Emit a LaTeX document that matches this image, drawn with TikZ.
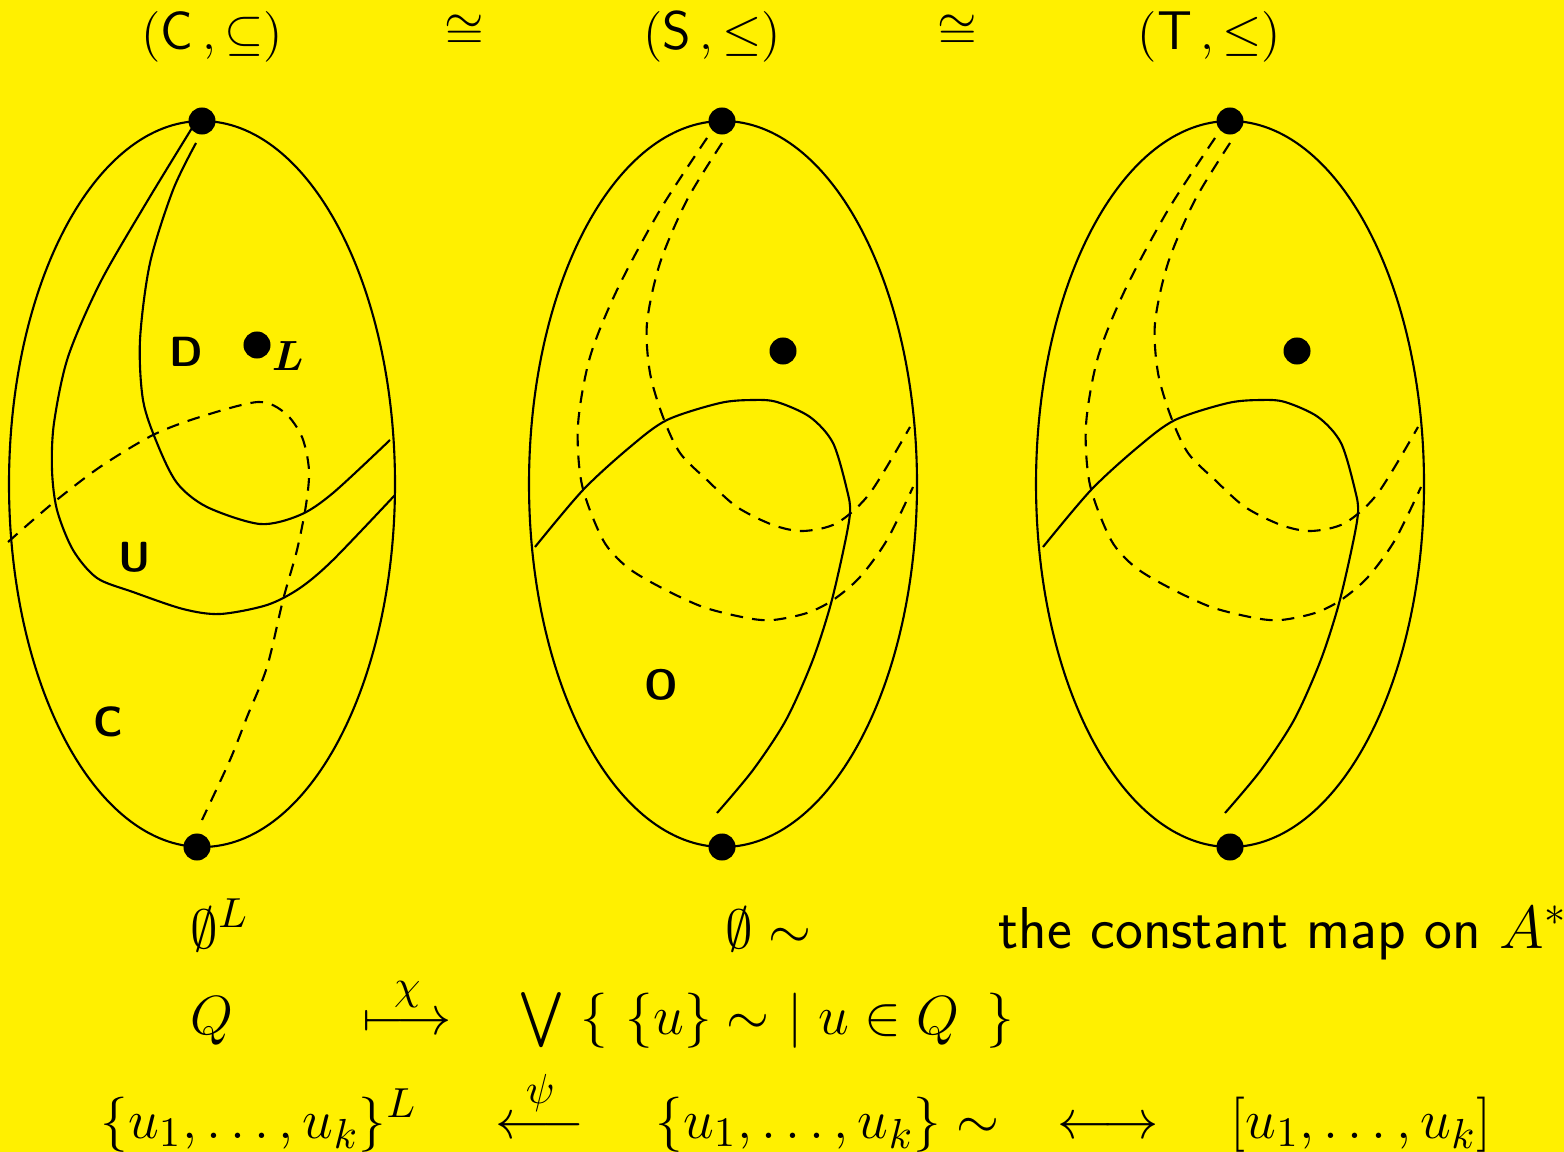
\documentclass[tikz,border=0pt]{standalone}
\usepackage{amsmath}
\usepackage{xcolor}
\usetikzlibrary{positioning}

\definecolor{slideyellow}{RGB}{255,240,0}

\tikzset{
  blob/.style={circle,fill=black,inner sep=0pt,minimum size=0.27cm},
  regionlabel/.style={font=\fontsize{12}{14}\selectfont\sffamily\bfseries,inner sep=0pt},
  txt/.style={anchor=base west,inner sep=0pt},
  bigtxt/.style={txt,scale=1.09,transform shape},
  frontline/.style={line width=0.6pt},
  backline/.style={line width=0.6pt,dash pattern=on 3.6pt off 2.6pt},
}

\begin{document}
\begin{tikzpicture}[x=0.01cm,y=-0.01cm,font=\fontsize{15.5}{18}\selectfont]
\useasboundingbox (0,0) rectangle (1564,1152);
\fill[slideyellow] (0,0) rectangle (1564,1152);

% the three eggs
\draw[frontline] (202,484) ellipse [x radius=193,y radius=363];
\draw[frontline] (723,484) ellipse [x radius=194,y radius=363];
\draw[frontline] (1230,484) ellipse [x radius=194,y radius=363];

% left egg: U, D and the dashed cut
\draw[frontline] plot[smooth] coordinates {(192,128) (145,205) (100,283) (68,357) (54,423) (52,470) (57,510) (73,550) (97,578) (133,592) (183,609) (220,614) (267,605) (300,588) (333,560) (395,495)};
\draw[frontline] plot[smooth] coordinates {(196,143) (173,190) (150,263) (140,340) (143,400) (157,443) (177,483) (207,507) (260,524) (300,515) (333,493) (390,440)};
\draw[backline] plot[smooth] coordinates {(8,542) (53,503) (100,467) (153,435) (200,417) (258,402) (285,413) (302,437) (309,470) (306,505) (297,550) (283,600) (267,667) (247,717) (230,760) (202,820)};

% middle and right egg
\foreach \dx in {0,508} {
\begin{scope}[shift={(\dx,0)}]
\draw[backline] plot[smooth] coordinates {(707,138) (660,210) (617,290) (590,357) (578,425) (582,485) (603,540) (627,567) (660,587) (703,607) (747,618) (773,620) (807,613) (833,600) (860,577) (887,540) (913,487)};
\draw[backline] plot[smooth] coordinates {(722,143) (687,200) (660,263) (647,323) (650,373) (663,417) (680,453) (707,480) (737,507) (773,525) (803,531) (837,523) (870,493) (910,427)};
\draw[frontline] plot[smooth] coordinates {(535,547) (583,490) (630,447) (667,420) (720,403) (753,400) (777,402) (810,417) (833,443) (847,490) (850,513) (843,552) (830,607) (812,662) (786,720) (753,770) (717,813)};
\end{scope}
}

% top and bottom points
\node[blob] (topC) at (202,121) {};
\node[blob] (botC) at (197,847) {};
\node[blob] (topS) at (722,121) {};
\node[blob] (botS) at (722,847) {};
\node[blob] (topT) at (1230,121) {};
\node[blob] (botT) at (1230,847) {};

% the point L
\node[blob] (ptC) at (257,345) {};
\node[blob] (ptS) at (783,351) {};
\node[blob] (ptT) at (1297,351) {};
\node[regionlabel,right=0pt of ptC,yshift=-3pt] (labL) {$\boldsymbol{L}$};

% region names
\node[regionlabel] (labD) at (186,352) {D};
\node[regionlabel] (labU) at (135,557) {U};
\node[regionlabel] (labC) at (108,722) {C};
\node[regionlabel] (labO) at (661,685) {O};

% headings
\node[txt] (posC) at (141,50) {$(\textsf{C}\,,\subseteq)$};
\node[txt] (iso1) at (444,48) {$\cong$};
\node[txt] (posS) at (643,50) {$(\textsf{S}\,,\leq)$};
\node[txt] (iso2) at (937,48) {$\cong$};
\node[txt] (posT) at (1137,50) {$(\textsf{T}\,,\leq)$};

% least elements
\node[bigtxt] (leastC) at (190,948) {$\emptyset^L$};
\node[bigtxt] (leastS) at (725,948) {$\emptyset\sim$};
\node[txt,font=\fontsize{16.8}{20}\selectfont] (leastT) at (998,948) {\sffamily the constant map on $A^*$};

% the maps
\node[bigtxt] (setQ) at (190,1034) {$Q$};
\node[bigtxt] (chi) at (362,1034) {$\stackrel{\chi}{\longmapsto}$};
\node[bigtxt] (join) at (518,1034) {$\bigvee\;\{\ \{u\}\sim\ \mid u\in Q\ \,\}$};

\node[bigtxt] (listC) at (100,1138) {$\{u_1,\ldots,u_k\}^L$};
\node[bigtxt] (psi) at (495,1138) {$\stackrel{\psi}{\longleftarrow}$};
\node[bigtxt] (listS) at (655,1138) {$\{u_1,\ldots,u_k\}\sim$};
\node[bigtxt] (corr) at (1057,1138) {$\longleftrightarrow$};
\node[bigtxt] (listT) at (1230,1138) {$[u_1,\ldots,u_k]$};
\end{tikzpicture}
\end{document}
